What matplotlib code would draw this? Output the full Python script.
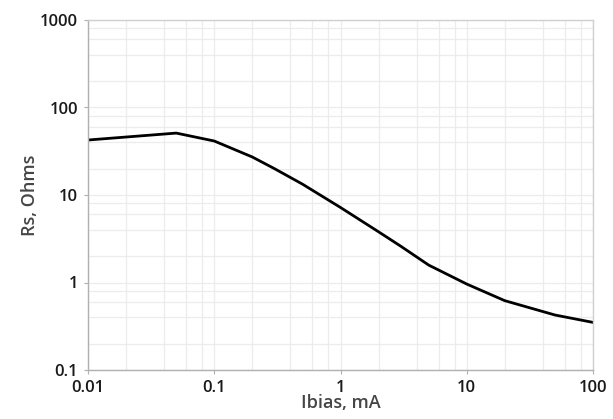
import matplotlib.pyplot as plt
from matplotlib.ticker import FixedLocator, LogLocator, NullFormatter

# values (log-log curve)
ibias_ma = [0.01, 0.05, 0.1, 0.2, 0.3, 0.5, 1, 2, 3, 5, 10, 20, 50, 100]
rs_ohms = [42.5, 51, 41.4, 27.2, 20.0, 13.3, 7.2, 3.8, 2.6, 1.58, 0.96, 0.62, 0.425, 0.35]

x_ticks = [0.01, 0.1, 1, 10, 100]
x_labels = ["0.01", "0.1", "1", "10", "100"]
y_ticks = [0.1, 1, 10, 100, 1000]
y_labels = ["0.1", "1", "10", "100", "1000"]

plt.rcParams["font.family"] = ["Open Sans", "DejaVu Sans"]

fig = plt.figure(figsize=(6.13, 4.19), dpi=100)
ax = fig.add_axes([88 / 613, 49 / 419, 505 / 613, 350 / 419])

ax.plot(ibias_ma, rs_ohms, color="black", lw=2.0, solid_joinstyle="round")

ax.set_xscale("log")
ax.set_yscale("log")
ax.set_xlim(0.01, 100)
ax.set_ylim(0.1, 1000)

ax.xaxis.set_major_locator(FixedLocator(x_ticks))
ax.yaxis.set_major_locator(FixedLocator(y_ticks))
ax.set_xticklabels(x_labels)
ax.set_yticklabels(y_labels)
ax.xaxis.set_minor_locator(LogLocator(base=10, subs=(2, 4, 6, 8)))
ax.yaxis.set_minor_locator(LogLocator(base=10, subs=(2, 4, 6, 8)))
ax.xaxis.set_minor_formatter(NullFormatter())
ax.yaxis.set_minor_formatter(NullFormatter())

ax.grid(which="both", color="#ececec", lw=0.9)
ax.set_axisbelow(True)
for side in ("top", "right"):
    ax.spines[side].set_color("#d0d0d0")
for side in ("left", "bottom"):
    ax.spines[side].set_color("#b0b0b0")
for sp in ax.spines.values():
    sp.set_linewidth(1.0)

ax.tick_params(which="major", length=3, width=0.8, color="#b0b0b0",
               labelsize=12, labelcolor="#1a1a1a", pad=4)
ax.tick_params(which="minor", length=0)
for lbl in ax.get_xticklabels() + ax.get_yticklabels():
    lbl.set_fontweight("semibold")

ax.set_xlabel("Ibias, mA", fontsize=13, color="#454545", fontweight="semibold", labelpad=-1)
ax.set_ylabel("Rs, Ohms", fontsize=13, color="#454545", fontweight="semibold", labelpad=1)

fig.savefig("out.png", dpi=100)
